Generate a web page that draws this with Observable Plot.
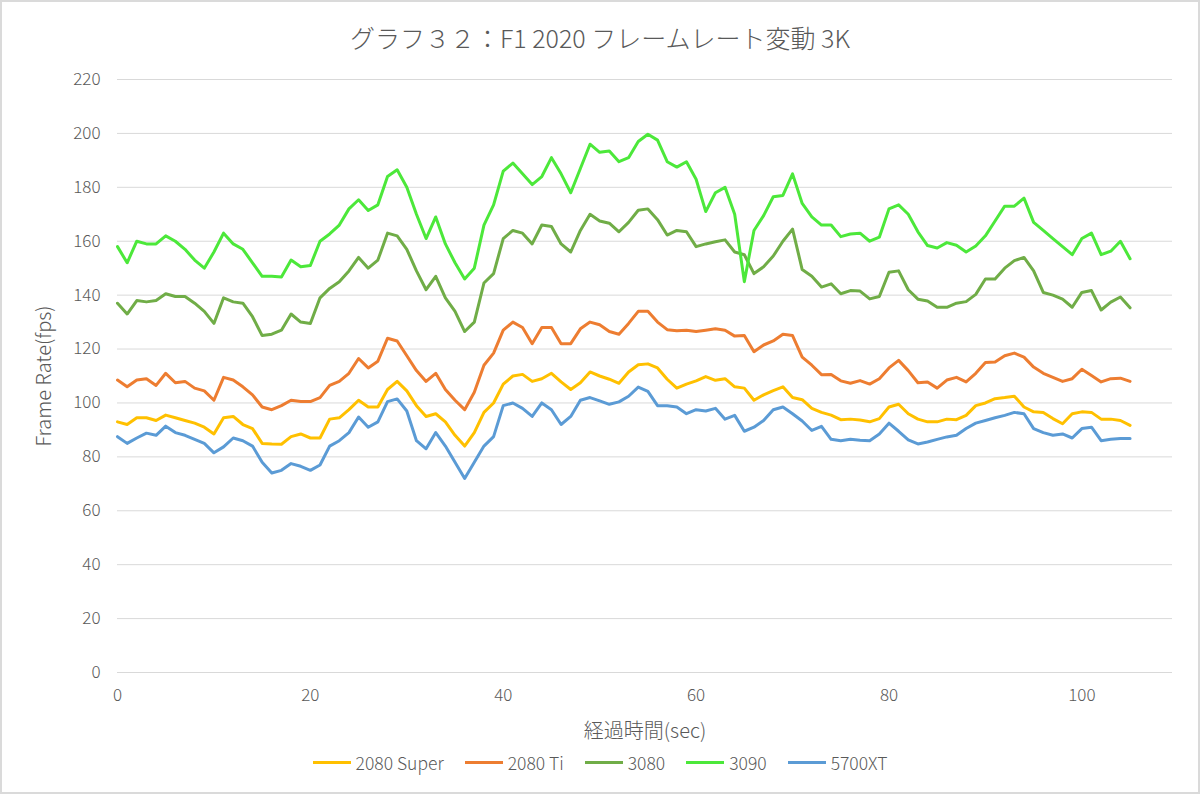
<!DOCTYPE html>
<html>
<head>
<meta charset="utf-8">
<script src="https://cdn.jsdelivr.net/npm/d3@7"></script>
<script src="https://cdn.jsdelivr.net/npm/@observablehq/plot@0.6"></script>
<style>
  html, body { margin: 0; padding: 0; background: #fff; }
  #wrap { position: relative; width: 1200px; height: 794px; overflow: hidden;
          font-family: "Noto Sans CJK JP", "Noto Sans", sans-serif; font-weight: 300; color: #595959; }
  #frame { position: absolute; left: 0; top: 0; width: 1200px; height: 794px; box-sizing: border-box;
           border: 2px solid #dadada; pointer-events: none; }
  #title { position: absolute; top: 22px; left: 0; width: 1200px; text-align: center;
           font-size: 25px; line-height: 30px; }
  #chart { position: absolute; top: 60px; left: 0; }
  #legend { position: absolute; top: 750px; left: 0; width: 1200px; height: 24px;
            display: flex; justify-content: center; align-items: center; font-size: 17.5px; }
  .item { display: flex; align-items: center; margin: 0 10.5px; }
  .swatch { width: 38px; height: 3px; margin-right: 5px; }
</style>
</head>
<body>
<div id="wrap">
  <div id="title">グラフ３２：F1 2020 フレームレート変動 3K</div>
  <div id="chart"></div>
  <div id="legend"></div>
  <div id="frame"></div>
</div>
<script>
// elapsed time (sec)
const sec = d3.range(0, 106);

const seriesNames = ["2080 Super", "2080 Ti", "3080", "3090", "5700XT"];
const seriesColors = ["#FFC000", "#ED7D31", "#70AD47", "#4CE83A", "#5B9BD5"];

const fps2080Super = [
  93,92,94.5,94.5,93.5,95.5,94.5,93.5,92.5,91,
  88.5,94.5,95,92,90.5,85,84.8,84.7,87.5,88.5,
  87,87,94,94.5,97.5,101,98.5,98.5,105,108,
  104.5,99,95,96,93,88,84,89,96.5,100,
  107,110,110.6,108,109,111,107.8,105,107.5,111.5,
  110,108.8,107.3,111.5,114.2,114.5,113,108.8,105.5,107,
  108.2,109.8,108.4,109,106,105.5,101,103,104.6,106,
  102,101.2,98,96.5,95.5,93.8,94,93.7,93,94.2,
  98.5,99.5,96,94,93,93,94,93.8,95.4,99,
  100,101.6,102,102.5,98.5,96.7,96.5,94.2,92.3,96,
  96.7,96.5,94,94,93.5,91.7
];
const fps2080Ti = [
  108.5,106,108.5,109,106.5,111,107.5,108,105.5,104.5,
  101,109.5,108.5,106,103,98.5,97.5,99,101,100.5,
  100.5,102,106.5,108,111,116.5,113,115.5,124,123,
  117.5,112,108,111,105,101,97.5,104,114,118.5,
  127,130,128,122,128,128,122,122,127.5,130,
  129,126.5,125.5,129.5,134,134,130,127.2,126.8,127,
  126.5,127,127.5,127,124.8,125,119,121.5,123,125.5,
  125,117,114,110.5,110.6,108.2,107.3,108.3,107,109,
  113,115.8,112,107.5,107.8,105.5,108.5,109.5,107.8,111,
  115,115.2,117.5,118.5,117,113.3,111,109.5,108,109,
  112.5,110.2,107.8,109,109.2,108
];
const fps3080 = [
  137,133,138,137.5,138,140.5,139.5,139.5,137,134,
  129.5,139,137.5,137,132,125,125.5,127,133,130,
  129.5,139,142.5,145,149,154,150,153,163,162,
  157,149,142,147,139,134,126.5,130,144.5,148,
  161,164,163,159,166,165.5,159,156,164,170,
  167.5,166.7,163.5,167,171.5,172,168,162.3,164,163.5,
  158,159,159.8,160.5,156,155,148,150.5,154.5,160,
  164.5,149.5,147,143,144.2,140.5,141.7,141.5,138.6,139.5,
  148.5,149,142,138.5,137.8,135.5,135.5,137,137.6,140.3,
  146,146,150,152.8,154,149,141,140,138.5,135.5,
  141,141.7,134.5,137.4,139.3,135.3
];
const fps3090 = [
  158,152,160,159,159,162,160,157,153,150,
  156,163,159,157,152,147,147,146.7,153,150.5,
  151,160,162.7,166,172,175.4,171.4,173.5,184,186.5,
  180,170,161,169,159,152,146,150,166,173.5,
  186,189,185,181,184,191,185,178,187,196,
  193,193.5,189.5,191,197,199.7,197.5,189.5,187.5,189.5,
  183,171,178,180,170,145,164,169.5,176.5,177,
  185,174,169,166,166,161.7,162.7,163,160,161.5,
  172,173.5,170,163.5,158.4,157.5,159.5,158.5,156,158.2,
  162,167.5,173,173,176,167,164,161,158,155,
  161,163,155,156.3,160,153.5
];
const fps5700XT = [
  87.5,85,87,88.8,88,91.4,89,88,86.5,85,
  81.5,83.7,87,86,84,78,74,75,77.5,76.5,
  75,77,84,86,89,94.8,91,93,100.5,101.5,
  97,86,83,89,84,78,72,78,84,87.5,
  99,100,98,95,100,97.5,92,95,101,102,
  100.8,99.5,100.4,102.5,105.9,104.3,99,99,98.5,96,
  97.5,97,98,94,95.4,89.5,91,93.5,97.5,98.5,
  96,93.3,89.8,91.3,86.5,86,86.5,86.2,86,88.5,
  92.5,89.5,86.3,84.8,85.5,86.5,87.4,88,90.5,92.5,
  93.5,94.5,95.4,96.5,96,90.5,89,88,88.5,87,
  90.5,91,86,86.5,86.8,86.8
];

const xTicks = [0, 20, 40, 60, 80, 100];
const yTicks = [0, 20, 40, 60, 80, 100, 120, 140, 160, 180, 200, 220];

const seriesValues = [fps2080Super, fps2080Ti, fps3080, fps3090, fps5700XT];
const rows = seriesNames.flatMap((name, i) =>
  sec.map((t, j) => ({series: name, t, v: seriesValues[i][j]})));

const chart = Plot.plot({
  width: 1200,
  height: 685,
  marginLeft: 117,
  marginRight: 28,
  marginTop: 19,
  marginBottom: 73,
  style: {
    fontFamily: '"Noto Sans CJK JP", "Noto Sans", sans-serif',
    fontWeight: 300,
    fontSize: "17px",
    color: "#595959",
    background: "transparent",
    overflow: "visible"
  },
  x: {domain: [0, 109.4]},
  y: {domain: [0, 220]},
  color: {domain: seriesNames, range: seriesColors},
  marks: [
    Plot.gridY(yTicks, {stroke: "#d9d9d9", strokeOpacity: 1, strokeWidth: 1}),
    Plot.axisX(xTicks, {tickSize: 0, tickPadding: 16, label: null}),
    Plot.axisY(yTicks, {tickSize: 0, tickPadding: 17, label: null}),
    Plot.line(rows, {x: "t", y: "v", z: "series", stroke: "series", strokeWidth: 3,
                     strokeLinejoin: "round", strokeLinecap: "round"}),
    Plot.text(["経過時間(sec)"], {text: d => d, frameAnchor: "bottom", dy: 59,
                     textAnchor: "middle", lineAnchor: "middle", fontSize: 20}),
    Plot.text(["Frame Rate(fps)"], {text: d => d, frameAnchor: "left", dx: -73, rotate: -90,
                     textAnchor: "middle", lineAnchor: "middle", fontSize: 20})
  ]
});
document.getElementById("chart").appendChild(chart);

const legend = document.getElementById("legend");
seriesNames.forEach((name, i) => {
  const item = document.createElement("div");
  item.className = "item";
  const sw = document.createElement("span");
  sw.className = "swatch";
  sw.style.background = seriesColors[i];
  const label = document.createElement("span");
  label.textContent = name;
  item.appendChild(sw);
  item.appendChild(label);
  legend.appendChild(item);
});
</script>
</body>
</html>
